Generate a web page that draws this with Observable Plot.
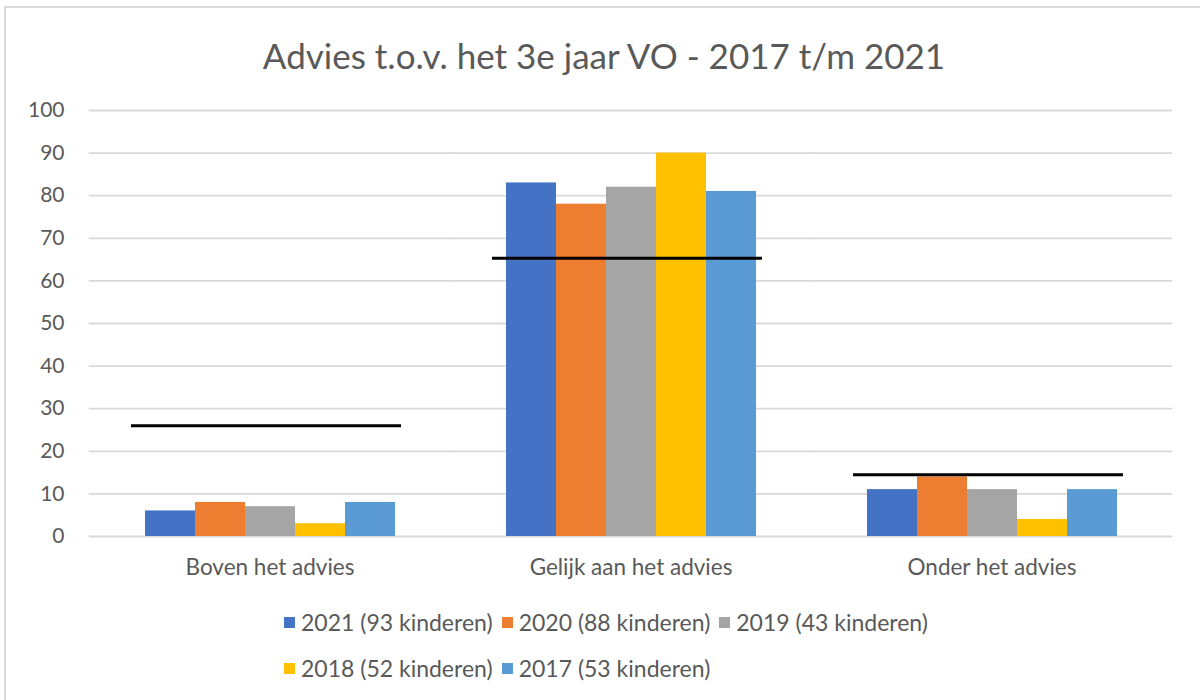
<!DOCTYPE html>
<html>
<head>
<meta charset="utf-8">
<script src="https://cdn.jsdelivr.net/npm/d3@7"></script>
<script src="https://cdn.jsdelivr.net/npm/@observablehq/plot@0.6"></script>
<style>
  html, body { margin: 0; padding: 0; background: #fff; }
  #frame { position: relative; width: 1200px; height: 700px; overflow: hidden; font-family: Lato, "Open Sans", sans-serif; color: #595959; }
  #border { position: absolute; left: 4px; top: 6px; width: 1210px; height: 720px; border: 2px solid #d9d9d9; box-sizing: border-box; }
  #title { position: absolute; left: 0; top: 33px; width: 1208px; text-align: center; font-size: 35px; line-height: 44px; color: #595959; }
  #chart { position: absolute; left: 0; top: 90px; }
  #legend { position: absolute; left: 284px; top: 606px; width: 672px; display: flex; flex-wrap: wrap; row-gap: 14px; column-gap: 9px; font-size: 23px; line-height: 32px; color: #595959; }
  .item { display: flex; align-items: center; }
  .sw { width: 11px; height: 11px; margin-right: 6px; }
</style>
</head>
<body>
<div id="frame">
  <div id="border"></div>
  <div id="title">Advies t.o.v. het 3e jaar VO - 2017 t/m 2021</div>
  <div id="chart"></div>
  <div id="legend"></div>
</div>
<script>
const categories = ["Boven het advies", "Gelijk aan het advies", "Onder het advies"];
const series = ["2021 (93 kinderen)", "2020 (88 kinderen)", "2019 (43 kinderen)", "2018 (52 kinderen)", "2017 (53 kinderen)"];
const colors = ["#4472C4", "#ED7D31", "#A5A5A5", "#FFC000", "#5B9BD5"];
const v2021 = [6, 83, 11];
const v2020 = [8, 78, 14];
const v2019 = [7, 82, 11];
const v2018 = [3, 90, 4];
const v2017 = [8, 81, 11];
const refLine = [26, 65.3, 14.5];
const yTicks = [0, 10, 20, 30, 40, 50, 60, 70, 80, 90, 100];

const seriesValues = [v2021, v2020, v2019, v2018, v2017];
const data = [];
categories.forEach((c, i) => {
  series.forEach((s, j) => data.push({cat: c, series: s, value: seriesValues[j][i]}));
});
const refData = categories.map((c, i) => ({cat: c, value: refLine[i]}));

const chart = Plot.plot({
  width: 1200,
  height: 506,
  marginLeft: 88,
  marginRight: 28,
  marginTop: 20,
  marginBottom: 60,
  style: {fontFamily: "Lato, 'Open Sans', sans-serif", color: "#595959", background: "transparent"},
  fx: {domain: categories, paddingInner: 0.305, paddingOuter: 0.1525, label: null},
  x: {domain: series, padding: 0, axis: null},
  y: {domain: [0, 100], label: null},
  color: {domain: series, range: colors},
  marks: [
    Plot.gridY(yTicks, {stroke: "#d9d9d9", strokeOpacity: 1, strokeWidth: 1.8, insetLeft: -55.2, insetRight: -55.2}),
    Plot.axisY(yTicks, {anchor: "left", tickSize: 0, tickPadding: 80, fontSize: 21, label: null}),
    Plot.barY(data, {fx: "cat", x: "series", y: "value", fill: "series"}),
    Plot.ruleY(refData, {fx: "cat", y: "value", stroke: "black", strokeWidth: 3, insetLeft: -13, insetRight: -6}),
    Plot.axisFx({anchor: "bottom", tickSize: 0, tickPadding: 23, fontSize: 22.5, label: null})
  ]
});
document.getElementById("chart").appendChild(chart);

const legend = document.getElementById("legend");
series.forEach((s, i) => {
  const it = document.createElement("div");
  it.className = "item";
  const sw = document.createElement("span");
  sw.className = "sw";
  sw.style.background = colors[i];
  const t = document.createElement("span");
  t.textContent = s;
  it.appendChild(sw);
  it.appendChild(t);
  legend.appendChild(it);
});
</script>
</body>
</html>
